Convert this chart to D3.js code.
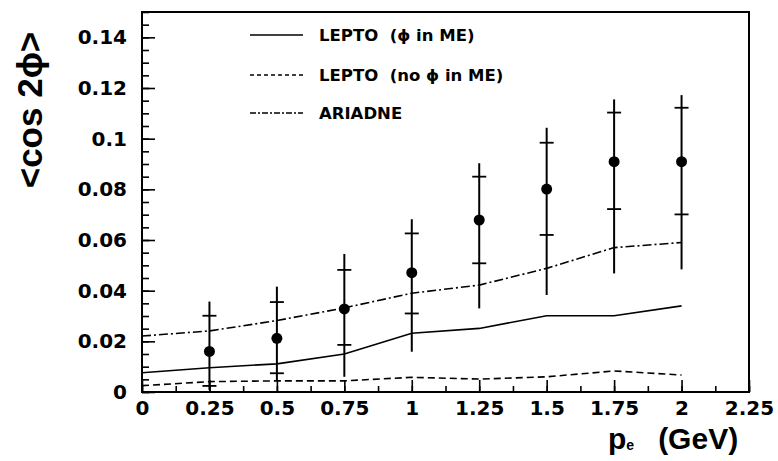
<!DOCTYPE html>
<html>
<head>
<meta charset="utf-8">
<script src="https://cdn.jsdelivr.net/npm/d3@7"></script>
<style>
  body { margin: 0; background: #fff; }
  .tick text { font-family: "DejaVu Sans", sans-serif; font-weight: bold; font-size: 20px; fill: #000; }
</style>
</head>
<body>
<div id="chart"></div>
<script>
// Data points (measurement) with stat (inner tick) and total (bar end) errors
var ptX = [0.25, 0.5, 0.75, 1, 1.25, 1.5, 1.75, 2];
var ptY = [0.0160, 0.0212, 0.0328, 0.0471, 0.0679, 0.0801, 0.0909, 0.0909];
var statHi = [0.0301, 0.0355, 0.0482, 0.0626, 0.0850, 0.0984, 0.1103, 0.1122];
var statLo = [0.0024, 0.0074, 0.0186, 0.0310, 0.0508, 0.0620, 0.0722, 0.0701];
var totHi = [0.0357, 0.0416, 0.0545, 0.0682, 0.0903, 0.1043, 0.1155, 0.1172];
var totLo = [0.0008, 0.0047, 0.0060, 0.0159, 0.0330, 0.0383, 0.0468, 0.0484];

// Model curves
var curveX = [0, 0.25, 0.5, 0.75, 1, 1.25, 1.5, 1.75, 2];
var leptoPhi = [0.0076, 0.0096, 0.0111, 0.0150, 0.0232, 0.0251, 0.0301, 0.0301, 0.0340];
var leptoNoPhi = [0.0025, 0.0041, 0.0044, 0.0044, 0.0058, 0.0051, 0.0060, 0.0083, 0.0067];
var ariadne = [0.0221, 0.0241, 0.0282, 0.0332, 0.0390, 0.0422, 0.0488, 0.0570, 0.0590];

var xTicks = [0, 0.25, 0.5, 0.75, 1, 1.25, 1.5, 1.75, 2, 2.25];
var yTicks = [0, 0.02, 0.04, 0.06, 0.08, 0.1, 0.12, 0.14];
var legendNames = ["LEPTO  (\u03d5 in ME)", "LEPTO  (no \u03d5 in ME)", "ARIADNE"];

var W = 778, H = 461;
var margin = { top: 12, right: 29, bottom: 69, left: 142 },
    width = W - margin.left - margin.right,
    height = H - margin.top - margin.bottom;

var svg = d3.select("#chart")
    .append("svg")
    .attr("width", W)
    .attr("height", H);

var g = svg.append("g")
    .attr("transform", "translate(" + margin.left + "," + margin.top + ")");

var x = d3.scaleLinear().domain([0, 2.25]).range([0, width]);
var y = d3.scaleLinear().domain([0, 0.15]).range([height, 0]);

// minor ticks
var xMinor = d3.range(0, 2.26, 0.125);
var yMinor = d3.range(0, 0.1501, 0.005);

g.append("g")
    .attr("transform", "translate(0," + height + ")")
    .call(d3.axisBottom(x).tickValues(xMinor).tickSize(-6).tickFormat(""));
g.append("g")
    .call(d3.axisLeft(y).tickValues(yMinor).tickSize(-7).tickFormat(""));

// major ticks + labels
g.append("g")
    .attr("class", "xaxis")
    .attr("transform", "translate(0," + height + ")")
    .call(d3.axisBottom(x).tickValues(xTicks).tickSize(-12).tickPadding(9)
        .tickFormat(function(d) { return String(+d.toFixed(2)); }));
g.append("g")
    .attr("class", "yaxis")
    .call(d3.axisLeft(y).tickValues(yTicks).tickSize(-13).tickPadding(15)
        .tickFormat(function(d) { return String(+d.toFixed(2)); }));

g.selectAll(".domain").remove();
g.selectAll(".tick line").attr("stroke", "#000").attr("stroke-width", 1.6);

// frame
g.append("rect")
    .attr("x", 0).attr("y", 0)
    .attr("width", width).attr("height", height)
    .attr("fill", "none")
    .attr("stroke", "#000")
    .attr("stroke-width", 2);

// model curves
var line = d3.line()
    .x(function(d, i) { return x(curveX[i]); })
    .y(function(d) { return y(d); });

var styles = [
    { data: leptoPhi, dash: null },
    { data: leptoNoPhi, dash: "7,4" },
    { data: ariadne, dash: "9,3,2,3" }
];

g.selectAll("curves").data(styles).enter().append("path")
    .attr("d", function(d) { return line(d.data); })
    .attr("fill", "none")
    .attr("stroke", "#000")
    .attr("stroke-width", 1.6)
    .attr("stroke-dasharray", function(d) { return d.dash; });

// error bars
var pts = ptX.map(function(v, i) {
    return { x: v, y: ptY[i], sh: statHi[i], sl: statLo[i], th: totHi[i], tl: totLo[i] };
});

var bars = g.selectAll("bars").data(pts).enter().append("g");
bars.append("line")
    .attr("x1", function(d) { return x(d.x); })
    .attr("x2", function(d) { return x(d.x); })
    .attr("y1", function(d) { return y(d.th); })
    .attr("y2", function(d) { return y(d.tl); })
    .attr("stroke", "#000").attr("stroke-width", 2);
["sh", "sl"].forEach(function(k) {
    bars.append("line")
        .attr("x1", function(d) { return x(d.x) - 7; })
        .attr("x2", function(d) { return x(d.x) + 7; })
        .attr("y1", function(d) { return y(d[k]); })
        .attr("y2", function(d) { return y(d[k]); })
        .attr("stroke", "#000").attr("stroke-width", 1.8);
});
bars.append("circle")
    .attr("cx", function(d) { return x(d.x); })
    .attr("cy", function(d) { return y(d.y); })
    .attr("r", 5.5)
    .attr("fill", "#000");

// legend
var legY = [35, 75, 113];
var leg = svg.selectAll("legend").data(legendNames).enter().append("g")
    .attr("transform", function(d, i) { return "translate(250," + legY[i] + ")"; });
leg.append("line")
    .attr("x1", 0).attr("x2", 53)
    .attr("stroke", "#000").attr("stroke-width", 1.4)
    .attr("stroke-dasharray", function(d, i) { return [null, "4,3", "6,2,2,2"][i]; });
leg.append("text")
    .attr("x", 69).attr("y", 6)
    .style("white-space", "pre")
    .style("font-family", "DejaVu Sans, sans-serif")
    .style("font-weight", "bold")
    .style("font-size", "16.5px")
    .text(function(d) { return d; });

// axis titles
svg.append("text")
    .attr("transform", "translate(42,110) rotate(-90)")
    .attr("text-anchor", "middle")
    .style("font-family", "Liberation Sans, Arial, sans-serif")
    .style("font-weight", "bold")
    .style("font-size", "35px")
    .text("<cos 2\u03d5>");

var xt = svg.append("text")
    .attr("x", 608).attr("y", 449)
    .style("font-family", "Liberation Sans, Arial, sans-serif")
    .style("font-weight", "bold")
    .style("font-size", "30px");
xt.append("tspan").text("p");
xt.append("tspan").attr("dy", 1).style("font-size", "14px").text("e");
xt.append("tspan").attr("dy", -1).attr("dx", 24).text("(GeV)");
</script>
</body>
</html>
